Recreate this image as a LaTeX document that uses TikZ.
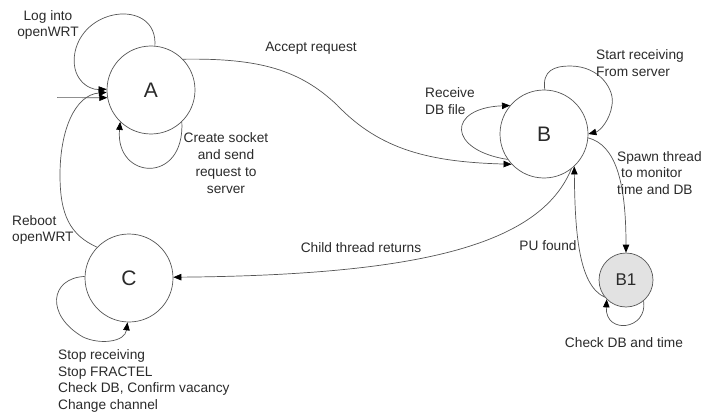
\documentclass[tikz,border=0pt]{standalone}
\usepackage{fontspec}
\setmainfont{Liberation Sans}
\usetikzlibrary{arrows.meta}
\definecolor{linegray}{HTML}{555555}
\definecolor{txtgray}{HTML}{2A2A2A}
\definecolor{bonefill}{HTML}{E2E2E2}
\tikzset{
  state/.style={circle, draw=linegray, line width=0.7pt, inner sep=0pt, minimum size=88pt,
    text=txtgray, font=\fontsize{21}{24}\selectfont},
  smallstate/.style={state, minimum size=54pt, fill=bonefill, font=\fontsize{17}{20}\selectfont},
  conn/.style={draw=linegray, line width=0.7pt, -{Triangle[length=8pt,width=6.5pt,color=black]}},
  lbl/.style={inner sep=0pt, text=txtgray, font=\fontsize{13.7}{16.8}\selectfont},
}
\begin{document}
\begin{tikzpicture}[x=1pt,y=-1pt]
\useasboundingbox (0,0) rectangle (719,417);

% states
\node[state] (A) at (151,90) {A};
\node[state] (B) at (544,134) {B};
\node[state] (C) at (129,278) {C};
\node[smallstate] (B1) at (626,280) {B1};

% initial arrow
\coordinate (init) at (57,97.6);
\draw[conn] (init) -- (A.190);

% Log into openWRT loop
\draw[conn] (A.85) .. controls (158,0) and (85,5) .. (75,52)
  .. controls (70,78) and (88,90) .. (A.179);
\node[lbl, align=center] (lLog) at (48,25) {Log into\\openWRT};

% Create socket loop
\draw[conn] (A.-46) .. controls (185,185) and (115,180) .. (A.226);
\node[lbl, align=center] (lSock) at (226,163) {Create socket\\and send\\request to\\server};

% Accept request
\draw[conn] (A.44) .. controls (260,58) and (300,70) .. (337,105)
  .. controls (380,150) and (430,162) .. (B.223);
\node[lbl] (lAcc) at (311,48) {Accept request};

% Receive DB file loop
\draw[conn] (B.215) .. controls (447,150) and (447,108) .. (B.140);
\node[lbl, align=left, anchor=west] (lRec) at (425,101) {Receive\\DB file};

% Start receiving loop
\draw[conn] (B.89) .. controls (542,70) and (555,66) .. (570,66)
  .. controls (600,66) and (615,90) .. (612,105)
  .. controls (610,120) and (600,131) .. (B.0);
\node[lbl, align=left, anchor=west] (lStart) at (596,63.5) {Start receiving\\From server};

% Spawn thread
\draw[conn] (B.-5) .. controls (615,145) and (626,180) .. (B1.north);
\node[lbl, align=left, anchor=west] (lSpawn) at (617,173) {Spawn thread\\\hspace*{4pt}to monitor\\time and DB};

% Check DB and time loop
\draw[conn] (B1.-50) .. controls (648,330) and (605,335) .. (B1.-135);
\node[lbl] (lCheck) at (624,343) {Check DB and time};

% PU found
\draw[conn] (B1.219) .. controls (578,285) and (575,230) .. (B.-47);
\node[lbl] (lPU) at (548,246) {PU found};

% Child thread returns
\draw[conn] (B.-52) .. controls (540,245) and (420,275) .. (C.1);
\node[lbl] (lChild) at (361,248) {Child thread returns};

% Reboot openWRT
\draw[conn] (C.136) .. controls (70,235) and (60,215) .. (60,175)
  .. controls (60,130) and (75,95) .. (A.183);
\node[lbl, align=left, anchor=west] (lReb) at (12,230) {Reboot\\openWRT};

% C loop
\draw[conn] (C.178) .. controls (50,278) and (45,315) .. (83,337)
  .. controls (100,345) and (125,342) .. (C.-92);
\node[lbl, align=left, anchor=west] (lStop) at (58,381) {Stop receiving\\Stop FRACTEL\\Check DB, Confirm vacancy\\Change channel};
\end{tikzpicture}
\end{document}
